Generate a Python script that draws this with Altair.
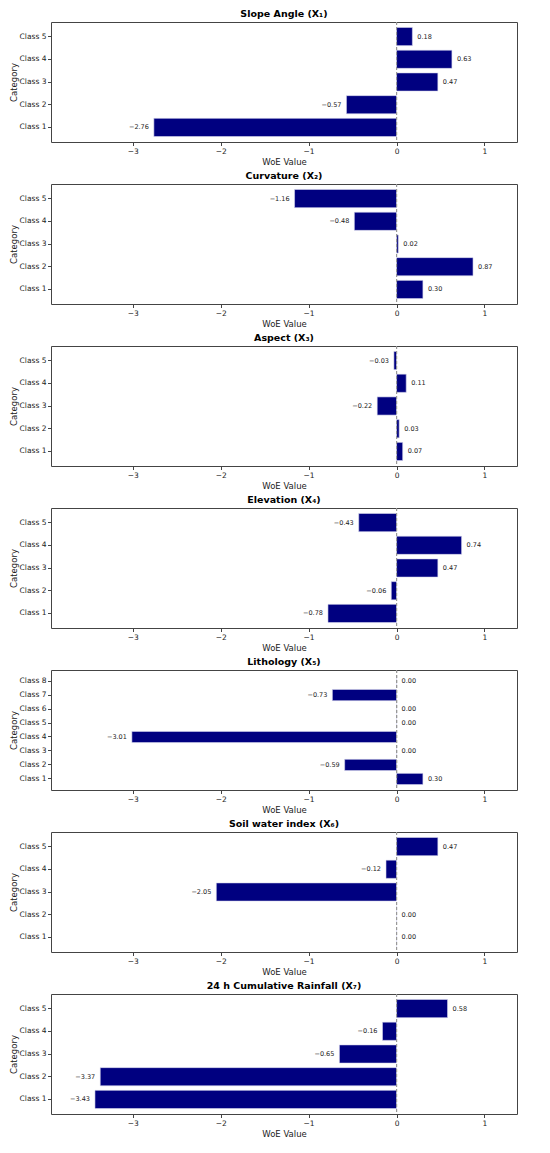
import altair as alt
import pandas as pd

titles = [
    "Slope Angle (X₁)",
    "Curvature (X₂)",
    "Aspect (X₃)",
    "Elevation (X₄)",
    "Lithology (X₅)",
    "Soil water index (X₆)",
    "24 h Cumulative Rainfall (X₇)",
]
slope = [-2.76, -0.57, 0.47, 0.63, 0.18]
curvature = [0.30, 0.87, 0.02, -0.48, -1.16]
aspect = [0.07, 0.03, -0.22, 0.11, -0.03]
elevation = [-0.78, -0.06, 0.47, 0.74, -0.43]
lithology = [0.30, -0.59, 0.00, -3.01, 0.00, 0.00, -0.73, 0.00]
soil_water = [0.00, 0.00, -2.05, -0.12, 0.47]
rainfall = [-3.43, -3.37, -0.65, -0.16, 0.58]
series = [slope, curvature, aspect, elevation, lithology, soil_water, rainfall]
x_ticks = [-3, -2, -1, 0, 1]

FONT = "DejaVu Sans"
NAVY = "#000080"


def panel(title, vals):
    n = len(vals)
    cats = [f"Class {i+1}" for i in range(n)]
    df = pd.DataFrame({
        "cat": cats,
        "v": vals,
        "lab": [f"{v:.2f}".replace("-", "−") for v in vals],
    })
    order = list(reversed(cats))
    y = alt.Y("cat:N", sort=order, title="Category",
              scale=alt.Scale(paddingInner=0.2, paddingOuter=0.05 * (n - 0.2)))
    x = alt.X("v:Q", title="WoE Value",
              scale=alt.Scale(domain=[-3.93, 1.37], nice=False, zero=False),
              axis=alt.Axis(values=x_ticks, format="d"))
    base = alt.Chart(df)
    bars = base.mark_bar(color=NAVY, stroke="#d8d8ee", strokeWidth=0.6).encode(
        x=x, x2=alt.datum(0), y=y)
    zero = base.mark_rule(color="#999999", strokeDash=[3, 2], strokeWidth=0.9).encode(
        x=alt.datum(0))
    pos = base.transform_filter("datum.v >= 0").mark_text(
        align="left", baseline="middle", dx=5, fontSize=6.5, font=FONT, color="#222222"
    ).encode(x="v:Q", y=y, text="lab:N")
    neg = base.transform_filter("datum.v < 0").mark_text(
        align="right", baseline="middle", dx=-5, fontSize=6.5, font=FONT, color="#222222"
    ).encode(x="v:Q", y=y, text="lab:N")
    return alt.layer(bars, zero, pos, neg).properties(
        width=466, height=120,
        title=alt.TitleParams(title, fontSize=9.5, font=FONT, fontWeight="bold",
                              offset=3, color="#000000"),
    )


chart = alt.vconcat(*[panel(t, s) for t, s in zip(titles, series)], spacing=4).properties(
    padding={"left": 0, "right": 0, "top": 0, "bottom": 0}
).configure_view(
    stroke="#444444", strokeWidth=1
).configure_axis(
    grid=False, labelFont=FONT, titleFont=FONT, labelFontSize=7.5, titleFontSize=8.5,
    titleFontWeight="normal", labelColor="#222222", titleColor="#222222",
    domain=False, tickColor="#444444", tickSize=3.5, labelPadding=2, titlePadding=2,
).configure_axisY(titlePadding=1, labelPadding=1.5)

chart.save("out.html", embed_options={"renderer": "svg", "actions": False})
